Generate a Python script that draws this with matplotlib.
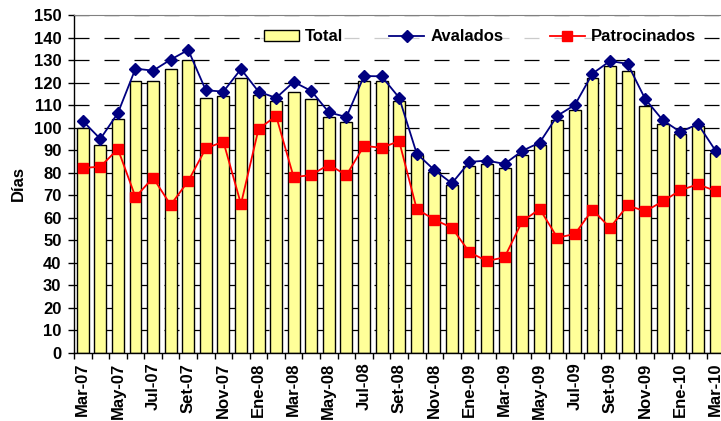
import matplotlib
matplotlib.use('Agg')
import matplotlib.pyplot as plt
import numpy as np

plt.rcParams['font.family'] = ['Liberation Sans', 'DejaVu Sans']
plt.rcParams['font.weight'] = 'bold'

months = ['Mar-07', 'Abr-07', 'May-07', 'Jun-07', 'Jul-07', 'Ago-07', 'Set-07', 'Oct-07',
          'Nov-07', 'Dic-07', 'Ene-08', 'Feb-08', 'Mar-08', 'Abr-08', 'May-08', 'Jun-08',
          'Jul-08', 'Ago-08', 'Set-08', 'Oct-08', 'Nov-08', 'Dic-08', 'Ene-09', 'Feb-09',
          'Mar-09', 'Abr-09', 'May-09', 'Jun-09', 'Jul-09', 'Ago-09', 'Set-09', 'Oct-09',
          'Nov-09', 'Dic-09', 'Ene-10', 'Feb-10', 'Mar-10']

total = [100, 92.5, 104, 120.8, 120.5, 126, 130, 113.3, 114, 122, 114.4, 112,
         116, 112.5, 104.7, 102.4, 120.7, 120.9, 112, 88, 80.5, 74.6, 82.8, 83.7,
         82.3, 88, 92.2, 103.4, 107.7, 122, 127.4, 125.2, 109.8, 101.6, 97.3, 100.6, 88.6]

avalados = [103, 95, 106.5, 126.2, 125.3, 130.2, 134.5, 116.6, 116, 126, 116, 113.2,
            120.3, 116.3, 106.8, 104.7, 122.9, 122.8, 113.3, 88.5, 81.2, 75.3, 84.8, 85.4,
            83.9, 89.7, 93.4, 105.3, 110.1, 124, 129.6, 128.3, 112.7, 103.3, 98.1, 101.6, 89.8]

patrocinados = [82.1, 82.7, 90.5, 69.2, 77.8, 65.7, 76.3, 90.8, 93.8, 66.1, 99.4, 105.2,
                78, 79, 83.6, 78.9, 91.9, 91.1, 94, 63.9, 59.2, 55.6, 44.7, 40.8,
                42.5, 58.4, 63.9, 51.2, 52.8, 63.6, 55.6, 65.5, 62.9, 67.3, 72.2, 74.9, 71.9]

x = np.arange(len(months))

fig = plt.figure(figsize=(7.21, 4.21), dpi=100)
ax = fig.add_axes([0.1026, 0.1615, 0.902, 0.8029])

ax.set_axisbelow(True)
ax.yaxis.grid(True, color='black', linestyle=(0, (12, 12)), linewidth=0.9)

bars = ax.bar(x, total, width=0.68, color='#FFFF99', edgecolor='black', linewidth=1,
              label='Total', zorder=2)
l1, = ax.plot(x, avalados, color='#000080', marker='D', markersize=6, linewidth=1.3,
              label='Avalados', zorder=3)
l2, = ax.plot(x, patrocinados, color='#FF0000', marker='s', markersize=7, linewidth=1.3,
              label='Patrocinados', zorder=4)

ax.set_xlim(-0.5, len(months) - 0.5)
ax.set_ylim(0, 150)
ax.set_yticks(np.arange(0, 151, 10))
ax.tick_params(axis='y', labelsize=12, length=4, width=1, pad=5)

ax.set_xticks(x[::2])
ax.set_xticklabels(months[::2], rotation=90, fontsize=12)
ax.set_xticks(np.arange(-0.5, len(months), 1), minor=True)
ax.tick_params(axis='x', which='major', length=0, pad=7)
ax.tick_params(axis='x', which='minor', length=4, width=1)

ax.spines['top'].set_color('#808080')
ax.spines['right'].set_visible(False)
ax.spines['left'].set_linewidth(1)
ax.spines['bottom'].set_linewidth(1)

ax.set_ylabel('Días', fontsize=12, fontweight='bold', labelpad=6)

leg = ax.legend([bars, l1, l2], ['Total', 'Avalados', 'Patrocinados'],
                loc='center', bbox_to_anchor=(0.624, 0.935), ncol=3, frameon=True,
                fontsize=12, handlelength=2.1, columnspacing=2.8, handletextpad=0.35,
                borderpad=0.2, fancybox=False)
leg.get_frame().set_edgecolor('white')
leg.get_frame().set_facecolor('white')

fig.savefig('out.png', dpi=100)
